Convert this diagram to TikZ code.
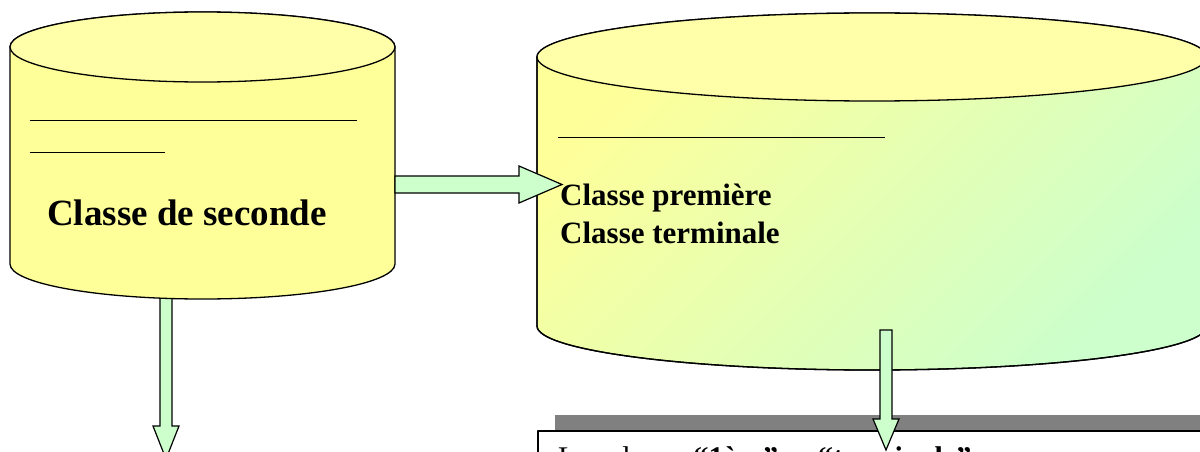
\documentclass[tikz,border=0pt]{standalone}
\usepackage{fontspec}
\setmainfont{Liberation Serif}
\definecolor{cylyellow}{HTML}{FFFF99}
\definecolor{cyltop}{HTML}{FFFFAA}
\definecolor{cylgreen}{HTML}{CCFFCC}
\definecolor{arrowgreen}{HTML}{CCFFCC}
\definecolor{shadowgray}{HTML}{808080}
\tikzset{
  outline/.style={draw=black, line width=1.3pt, line join=round},
  blockarrow/.style={outline, fill=arrowgreen, line width=1.2pt, line join=miter},
  rule/.style={draw=black, line width=1pt},
  bigtext/.style={font=\bfseries\fontsize{37}{44}\selectfont, inner sep=0pt},
  midtext/.style={font=\bfseries\fontsize{31}{38}\selectfont, inner sep=0pt, align=left},
  lowtext/.style={font=\fontsize{30}{36}\selectfont, inner sep=0pt}
}
\begin{document}
\begin{tikzpicture}[x=1pt,y=1pt]
\useasboundingbox (0,0) rectangle (1200,-452);
\clip (0,0) rectangle (1200,-452);

% named anchor points
\coordinate (Lc) at (202.5,-47);
\coordinate (Rc) at (872,-57);

% left vertical arrow (behind left cylinder)
\path[blockarrow] (160,-290) -- (160,-426) -- (153,-426) -- (166,-459) -- (179,-426) -- (172,-426) -- (172,-290) -- cycle;

% left cylinder
\path[outline, fill=cylyellow] (10,-47) -- (10,-264)
  arc[start angle=180, end angle=360, x radius=192.5, y radius=35]
  -- (395,-47)
  arc[start angle=0, end angle=180, x radius=192.5, y radius=35] -- cycle;
\path[outline, fill=cyltop] (Lc) ellipse [x radius=192.5, y radius=35];
\draw[rule] (30,-120) -- (357,-120);
\draw[rule] (30,-152) -- (165,-152);
\node[bigtext, anchor=base west] (seconde) at (47,-225) {Classe de seconde};

% right cylinder
\path[outline, top color=cylyellow, bottom color=cylgreen, shading angle=45] (537,-57) -- (537,-326)
  arc[start angle=180, end angle=360, x radius=335, y radius=44]
  -- (1207,-57)
  arc[start angle=0, end angle=180, x radius=335, y radius=44] -- cycle;
\draw[outline] (537,-57) -- (537,-326)
  arc[start angle=180, end angle=360, x radius=335, y radius=44]
  -- (1207,-57);
\path[outline, fill=cyltop] (Rc) ellipse [x radius=335, y radius=44];
\draw[rule] (558,-137) -- (885,-137);
\node[midtext, anchor=base west] (premiere) at (560,-243) {Classe première\\Classe terminale};

% horizontal arrow between cylinders
\path[blockarrow] (395,-176) -- (519,-176) -- (519,-166) -- (562,-184.5) -- (519,-203) -- (519,-193) -- (395,-193) -- cycle;

% bottom box with shadow
\fill[shadowgray] (555,-415) rectangle (1215,-480);
\path[outline, fill=white, line width=1.2pt] (538,-431) rectangle (1215,-490);
\node[lowtext, anchor=base west] (bottomtext) at (558,-467) {Les classe\hspace{13pt}\textbf{“1ère”}\hspace{40pt}\textbf{“terminale”}};

% right vertical arrow
\path[blockarrow] (880,-330) -- (880,-419) -- (873,-419) -- (886,-450) -- (899,-419) -- (892,-419) -- (892,-330) -- cycle;
\end{tikzpicture}
\end{document}
